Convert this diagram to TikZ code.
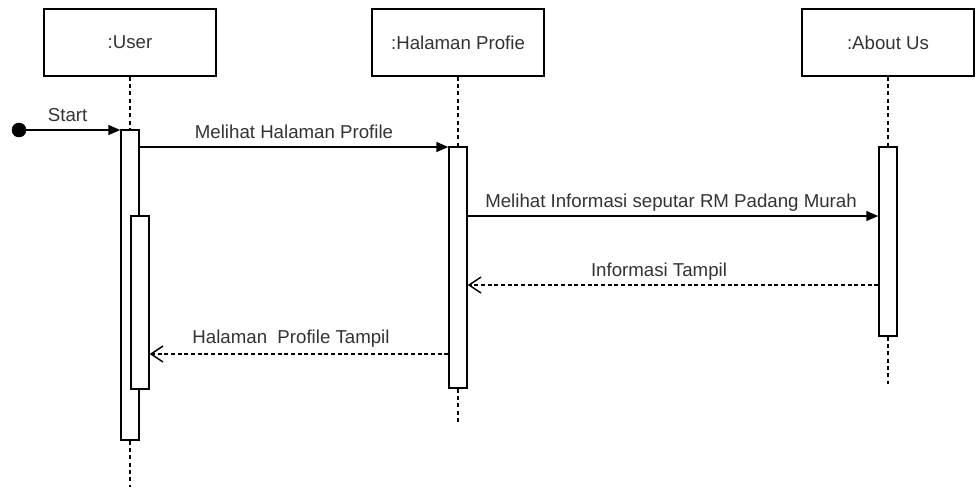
\documentclass[tikz,border=0pt]{standalone}
\usepackage{fontspec}
\setmainfont{Liberation Sans}
\usetikzlibrary{arrows.meta,calc}
\begin{document}
\begin{tikzpicture}[x=0.75pt,y=-0.75pt,
  font=\fontsize{14pt}{16pt}\selectfont,
  every node/.style={text=black!80},
  objbox/.style={draw=black,line width=1.1pt,minimum width=129pt,minimum height=50.25pt,inner sep=0pt},
  actbox/.style={draw=black,fill=white,line width=1.1pt,minimum width=13.5pt,inner sep=0pt},
  lifeline/.style={draw=black,line width=1.1pt,dash pattern=on 3pt off 2.5pt},
  syncmsg/.style={draw=black,line width=1.1pt,-{Triangle[length=9pt,width=7.5pt]}},
  retmsg/.style={draw=black,line width=1.1pt,dash pattern=on 3pt off 2pt,-{Straight Barb[length=9pt,width=12pt,line width=1.1pt]}},
  msglabel/.style={anchor=base,yshift=6.75pt,inner sep=0pt}]
\useasboundingbox (0,0) rectangle (979,487);
% objects
\node[objbox] (user) at (130,42.5) {:User};
\node[objbox] (halaman) at (458,42.5) {:Halaman Profie};
\node[objbox] (about) at (888,42.5) {:About Us};
% activations
\node[actbox,minimum height=232.5pt] (uact) at (130,285) {};
\node[actbox,minimum height=129.75pt] (uact2) at (140,302.5) {};
\node[actbox,minimum height=180.75pt] (hact) at (458,267.5) {};
\node[actbox,minimum height=141.75pt] (aact) at (888,241.5) {};
% lifeline ends
\coordinate (uend) at (130,487);
\coordinate (hend) at (458,424);
\coordinate (aend) at (888,384);
\draw[lifeline] (user.south) -- (uact.north);
\draw[lifeline] (uact.south) -- (uend);
\draw[lifeline] (halaman.south) -- (hact.north);
\draw[lifeline] (hact.south) -- (hend);
\draw[lifeline] (about.south) -- (aact.north);
\draw[lifeline] (aact.south) -- (aend);
% message rows
\coordinate (m0) at (0,130);
\coordinate (m1) at (0,147);
\coordinate (m2) at (0,216);
\coordinate (m3) at (0,285);
\coordinate (m4) at (0,354);
% start
\node[circle,fill=black,draw=black,minimum size=10.5pt,inner sep=0pt] (start) at (19,130) {};
\draw[syncmsg] (start.center) -- (uact.west |- m0) node[msglabel,midway,xshift=-1.5pt] {Start};
\draw[syncmsg] (uact.east |- m1) -- (hact.west |- m1)
  node[msglabel,midway] {Melihat Halaman Profile};
\draw[syncmsg] (hact.east |- m2) -- (aact.west |- m2)
  node[msglabel,midway,xshift=-1.5pt] {Melihat Informasi seputar RM Padang Murah};
\draw[retmsg] (aact.west |- m3) -- (hact.east |- m3)
  node[msglabel,midway,xshift=-10.5pt] {Informasi Tampil};
\draw[retmsg] (hact.west |- m4) -- (uact2.east |- m4)
  node[msglabel,midway,xshift=-6pt,yshift=1.5pt] {Halaman~ Profile Tampil};
\end{tikzpicture}
\end{document}
